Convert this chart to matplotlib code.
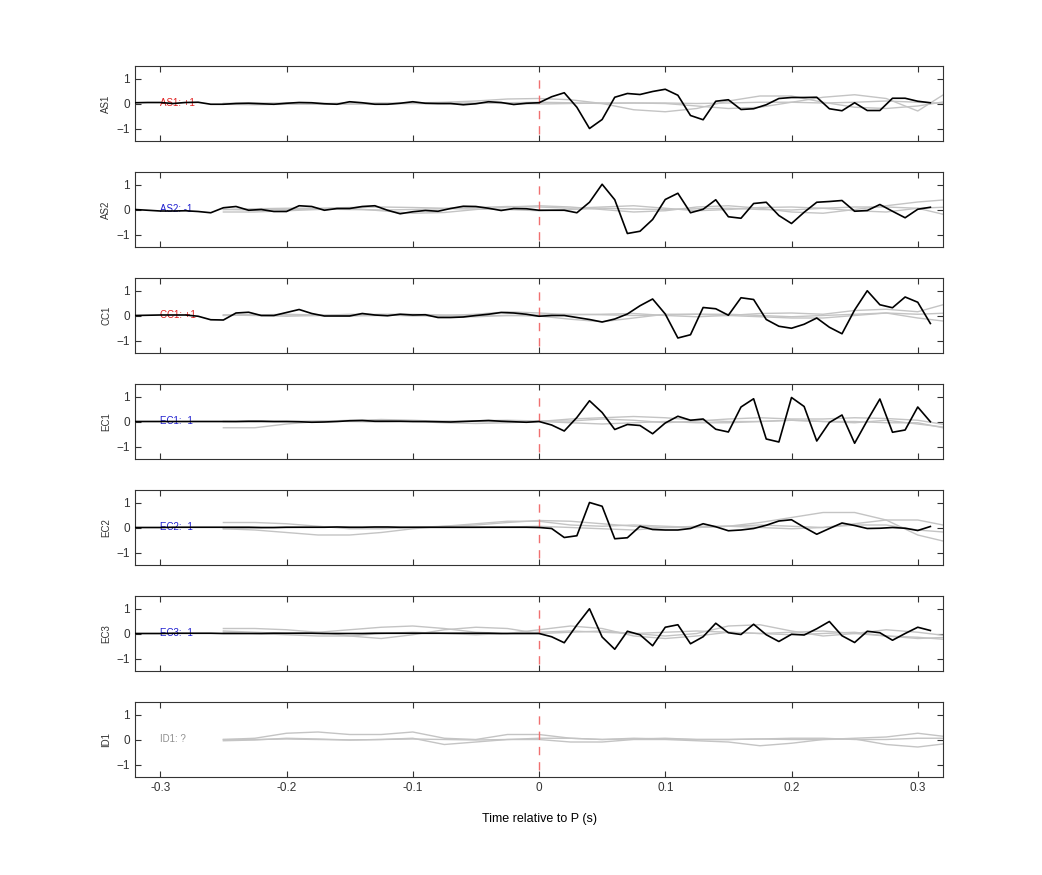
import numpy as np
import matplotlib
matplotlib.use("Agg")
from matplotlib import pyplot as plt

plt.rcParams['font.family'] = ['Liberation Sans', 'DejaVu Sans']

stations = ["AS1", "AS2", "CC1", "EC1", "EC2", "EC3", "ID1"]
labels = ["AS1: +1", "AS2: -1", "CC1: +1", "EC1: -1", "EC2: -1", "EC3: -1", "ID1: ?"]
label_colors = ["#e02020", "#2020d0", "#e02020", "#2020d0", "#2020d0", "#2020d0", "#909090"]

# black trace, sampled every 0.01 s from -0.32 to 0.31
t_black = np.round(np.arange(-32, 32) * 0.01, 2)

pre = {
    "AS1": [0.03, 0.04, 0.04, 0.0, 0.04, 0.05, -0.03, -0.03, 0.0, 0.01, -0.01, -0.03, 0.01, 0.04, 0.03,
            -0.01, -0.03, 0.07, 0.03, -0.03, -0.03, 0.01, 0.07, 0.01, 0.0, 0.0, -0.05, -0.01, 0.07, 0.04, -0.04, 0.01],
    "AS2": [0.0, -0.03, -0.06, -0.06, -0.05, -0.08, -0.13, 0.07, 0.12, -0.03, 0.0, -0.08, -0.08, 0.15, 0.12, -0.03,
            0.04, 0.04, 0.12, 0.15, -0.03, -0.17, -0.09, -0.04, -0.07, 0.04, 0.13, 0.12, 0.05, -0.04, 0.04, 0.03],
    "CC1": [0.0, 0.01, 0.02, 0.02, 0.02, -0.03, -0.17, -0.18, 0.1, 0.13, 0.0, 0.0, 0.12, 0.24, 0.08, -0.02,
            -0.02, -0.02, 0.08, 0.02, -0.01, 0.05, 0.02, 0.03, -0.08, -0.08, -0.06, 0.0, 0.05, 0.12, 0.1, 0.05],
    "EC1": [0.0, 0.0, 0.0, 0.0, 0.0, 0.0, 0.0, 0.0, 0.0, 0.01, 0.01, 0.0, 0.0, -0.01, -0.03, -0.02,
            0.0, 0.03, 0.04, 0.01, 0.01, 0.01, 0.0, 0.0, -0.01, -0.02, 0.0, 0.02, 0.04, 0.01, -0.01, -0.03],
    "EC2": [0.0, 0.0, 0.0, 0.01, 0.01, 0.01, 0.01, 0.01, 0.01, 0.01, 0.0, 0.0, 0.01, 0.01, 0.01, 0.01,
            0.02, 0.01, 0.01, 0.02, 0.02, 0.01, 0.01, 0.01, 0.01, 0.01, 0.01, 0.01, 0.01, 0.01, 0.01, 0.01],
    "EC3": [0.0, 0.0, 0.0, 0.01, 0.01, 0.01, 0.01, 0.0, 0.0, 0.0, 0.0, 0.01, 0.01, 0.01, 0.01, 0.0,
            0.0, 0.0, 0.0, 0.01, 0.01, 0.01, 0.01, 0.01, 0.01, 0.01, 0.01, 0.01, 0.01, 0.0, 0.0, 0.0],
}
post = {
    "AS1": [0.03, 0.27, 0.43, -0.15, -1.0, -0.64, 0.25, 0.4, 0.36, 0.48, 0.57, 0.33, -0.48, -0.65, 0.09, 0.15,
            -0.24, -0.21, -0.05, 0.2, 0.24, 0.24, 0.25, -0.21, -0.29, 0.03, -0.28, -0.28, 0.21, 0.21, 0.09, 0.03],
    "AS2": [-0.03, -0.03, -0.03, -0.13, 0.29, 1.01, 0.39, -0.96, -0.87, -0.4, 0.4, 0.65, -0.13, 0.01, 0.39, -0.29,
            -0.35, 0.24, 0.29, -0.24, -0.56, -0.11, 0.29, 0.32, 0.36, -0.07, -0.04, 0.2, -0.07, -0.33, 0.01, 0.09],
    "CC1": [-0.03, 0.0, 0.0, -0.08, -0.16, -0.26, -0.14, 0.06, 0.39, 0.66, 0.06, -0.9, -0.77, 0.32, 0.27, 0.01,
            0.71, 0.64, -0.16, -0.43, -0.51, -0.35, -0.1, -0.47, -0.73, 0.22, 0.99, 0.43, 0.31, 0.74, 0.53, -0.32],
    "EC1": [0.0, -0.14, -0.38, 0.16, 0.83, 0.36, -0.32, -0.12, -0.16, -0.49, -0.06, 0.21, 0.05, 0.1, -0.31, -0.42,
            0.58, 0.91, -0.7, -0.82, 0.96, 0.6, -0.78, -0.04, 0.26, -0.87, 0.04, 0.9, -0.43, -0.34, 0.58, -0.01],
    "EC2": [0.0, -0.04, -0.4, -0.33, 1.0, 0.85, -0.45, -0.41, 0.05, -0.08, -0.1, -0.1, -0.04, 0.15, 0.03, -0.13,
            -0.1, -0.04, 0.09, 0.26, 0.31, 0.01, -0.27, -0.04, 0.18, 0.08, -0.04, -0.03, 0.0, -0.03, -0.12, 0.04],
    "EC3": [0.0, -0.13, -0.37, 0.34, 0.99, -0.14, -0.63, 0.09, -0.05, -0.49, 0.25, 0.35, -0.41, -0.13, 0.41, 0.03,
            -0.04, 0.37, -0.05, -0.32, -0.03, -0.06, 0.19, 0.48, -0.09, -0.36, 0.09, 0.03, -0.27, 0.0, 0.25, 0.12],
}

# grey traces, sampled every 0.025 s from -0.25 to 0.325
t_grey = np.round(-0.25 + np.arange(24) * 0.025, 3)
grey = {
    "AS1": [
        [0, 0, -0.02, -0.03, -0.02, 0, 0.02, 0.05, 0.1, 0.18, 0.2, 0.15, 0, -0.25, -0.33, -0.2, 0.1, 0.3, 0.3, 0.05, -0.15, -0.2, -0.1, 0.1],
        [0, 0.02, 0.02, 0, -0.02, -0.02, 0, 0.02, 0.02, 0, -0.02, 0, 0.02, 0.02, 0, -0.1, -0.2, -0.15, 0.05, 0.25, 0.35, 0.2, -0.3, 0.5],
        [-0.03, -0.05, -0.03, 0, 0.02, 0.02, 0.0, -0.02, 0, 0.03, 0.05, 0.03, 0.0, 0.02, 0.02, 0, 0.02, 0.05, 0.05, 0.02, 0.05, 0.1, 0.05, 0.0],
    ],
    "AS2": [
        [-0.1, -0.1, -0.05, 0, 0.05, -0.05, -0.15, -0.12, 0, 0.1, 0.15, 0.1, 0.0, -0.1, -0.05, 0.1, 0.15, 0.05, -0.1, -0.15, 0, 0.15, 0.3, 0.4],
        [0, 0.03, 0.05, 0.05, 0.08, 0.1, 0.08, 0.05, 0.08, 0.12, 0.1, 0.05, 0.1, 0.15, 0.05, -0.05, 0, 0.08, 0.1, 0.05, -0.05, -0.1, 0.05, -0.25],
        [0.0, -0.02, 0.0, 0.02, 0.0, -0.02, 0.0, 0.03, 0.02, 0.0, -0.05, 0.0, 0.05, 0.02, 0.0, 0.03, 0.05, 0.0, -0.02, 0.05, 0.1, 0.1, 0.05, 0.1],
    ],
    "CC1": [
        [0.02, 0.0, -0.03, 0.0, 0.05, 0.03, -0.02, 0.0, 0.05, 0.15, 0.1, 0.03, 0.05, 0.08, 0.0, -0.05, 0.0, 0.08, 0.1, 0.05, 0.2, 0.25, 0.15, 0.5],
        [0, 0.02, 0.05, 0.02, -0.02, 0, 0.03, -0.05, -0.05, 0.0, -0.02, -0.15, -0.25, -0.1, 0.05, 0.05, 0, -0.05, -0.1, -0.1, 0.0, 0.1, -0.1, -0.25],
        [0.02, 0.03, 0.02, 0.0, 0.02, 0.05, 0.05, 0.02, 0.0, 0.0, 0.02, 0.05, 0.03, 0.0, 0.02, 0.05, 0.05, 0.0, -0.05, 0.0, 0.05, 0.1, 0.05, 0.1],
    ],
    "EC1": [
        [-0.25, -0.25, -0.1, 0.0, 0.05, 0.05, 0.0, -0.05, -0.08, -0.05, 0.0, 0.1, 0.15, 0.2, 0.15, 0.05, 0.0, 0.0, 0.05, 0.0, -0.05, 0.05, -0.1, -0.25],
        [0, 0.0, 0.0, 0.0, 0.03, 0.08, 0.05, 0.0, 0.03, 0.05, 0.02, 0.02, 0.1, 0.05, -0.05, 0.02, 0.1, 0.15, 0.1, 0.1, 0.15, 0.12, 0.05, -0.15],
        [0, -0.02, 0.0, 0.02, 0.0, -0.02, 0.0, 0.02, 0.0, -0.02, 0.0, -0.05, -0.1, -0.05, 0.0, -0.05, -0.05, 0.0, 0.05, 0.0, 0.0, -0.05, -0.05, -0.3],
    ],
    "EC2": [
        [-0.05, -0.1, -0.2, -0.3, -0.3, -0.2, -0.05, 0.05, 0.1, 0.2, 0.28, 0.25, 0.15, 0.05, 0.0, 0.0, 0.05, 0.2, 0.4, 0.6, 0.6, 0.3, -0.3, -0.6],
        [0.2, 0.2, 0.15, 0.05, -0.05, -0.05, 0.0, 0.05, 0.15, 0.25, 0.25, 0.1, 0.05, 0.1, 0.05, 0.0, 0.05, 0.1, 0.05, 0.0, 0.15, 0.3, 0.3, 0.05],
        [-0.05, -0.02, 0.0, 0.02, 0.0, 0.0, 0.0, 0.0, 0.0, 0.02, 0.05, 0.0, -0.05, -0.1, 0.0, 0.05, 0.05, 0.0, -0.05, 0.0, 0.1, 0.1, -0.1, -0.2],
    ],
    "EC3": [
        [0.2, 0.2, 0.15, 0.05, -0.1, -0.2, -0.05, 0.15, 0.25, 0.2, 0.0, 0.05, 0.1, 0.0, -0.1, 0.0, 0.3, 0.35, 0.1, -0.1, 0.0, 0.15, 0.05, -0.1],
        [0.1, 0.05, 0.0, 0.05, 0.15, 0.25, 0.3, 0.2, 0.05, 0.0, 0.15, 0.3, 0.2, -0.1, -0.2, -0.1, 0.05, 0.0, -0.05, 0.0, 0.05, -0.1, -0.2, -0.15],
        [0.05, 0.0, -0.05, -0.1, -0.1, 0.0, 0.05, 0.0, -0.05, 0.0, 0.05, 0.1, 0.05, 0.0, 0.05, 0.1, 0.05, 0.0, 0.05, 0.1, 0.0, -0.1, -0.15, -0.25],
    ],
    "ID1": [
        [0.0, 0.05, 0.25, 0.3, 0.2, 0.2, 0.3, 0.05, 0.0, 0.2, 0.2, 0.05, 0.0, 0.05, 0.02, 0.0, 0.0, 0.02, 0.0, 0.0, 0.05, 0.1, 0.25, 0.1],
        [0.0, 0.0, 0.02, 0.0, -0.02, 0.0, 0.05, -0.2, -0.1, 0.0, 0.0, -0.1, -0.1, 0.0, 0.0, -0.05, -0.1, -0.25, -0.15, 0.0, 0.02, -0.2, -0.3, -0.15],
        [-0.05, -0.02, 0.05, 0.02, -0.02, 0.0, 0.02, 0.0, -0.02, 0.0, 0.05, 0.05, 0.0, 0.02, 0.05, 0.0, 0.0, 0.02, 0.05, 0.05, 0.0, 0.0, 0.05, 0.05],
    ],
}

xticks = [-0.3, -0.2, -0.1, 0, 0.1, 0.2, 0.3]
xticklabels = ["-0.3", "-0.2", "-0.1", "0", "0.1", "0.2", "0.3"]
yticks = [-1, 0, 1]

fig = plt.figure(figsize=(10.42, 8.75), dpi=100)
W, H = 1042, 875
for i, st in enumerate(stations):
    top = 66 + 106 * i
    ax = fig.add_axes([135 / W, 1 - (top + 75) / H, 808 / W, 75 / H])
    for g in grey[st]:
        ax.plot(t_grey, g, color="#c4c4c4", lw=1.0)
    if st in pre:
        ax.plot(t_black, pre[st] + post[st], color="black", lw=1.2, zorder=3)
    ax.axvline(0, ymin=0.1, ymax=0.9, color="#f07070", lw=1.0, dashes=(6, 5), zorder=2)
    ax.text(-0.3, 0, labels[i], color=label_colors[i], fontsize=7, va="center", ha="left", zorder=1)
    ax.set_xlim(-0.32, 0.32)
    ax.set_ylim(-1.5, 1.5)
    ax.set_yticks(yticks)
    ax.set_xticks(xticks)
    ax.set_ylabel(st, fontsize=7, color="#333333")
    ax.tick_params(direction="in", top=True, right=True, labelsize=8.5, colors="#333333", length=4)
    if i < len(stations) - 1:
        ax.set_xticklabels([])
    else:
        ax.set_xticklabels(xticklabels)
        ax.set_xlabel("Time relative to P (s)", fontsize=9, labelpad=14)
    for s in ax.spines.values():
        s.set_color("#333333")

fig.savefig("out.png", dpi=100)
